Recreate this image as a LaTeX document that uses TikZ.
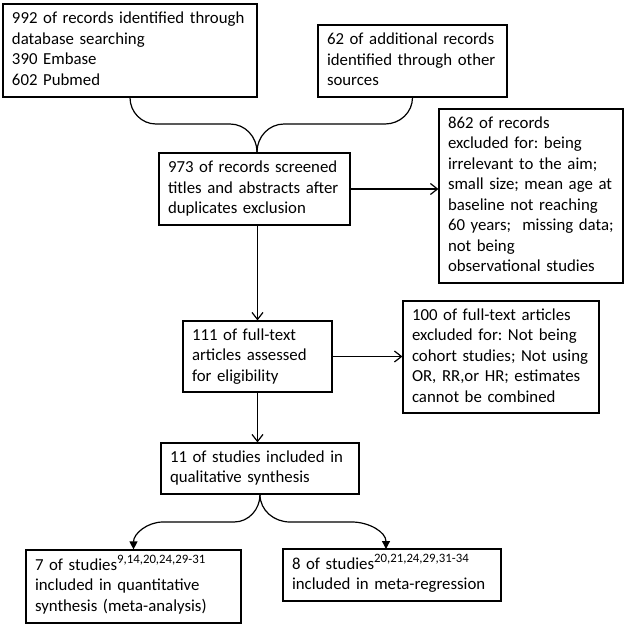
\documentclass[tikz,border=0pt]{standalone}
\usepackage{fontspec}
\setmainfont{Carlito}
\usetikzlibrary{arrows.meta}
\frenchspacing
\newcommand{\bl}[1]{\begin{tabular}{@{}l@{}}#1\end{tabular}}
\newcommand{\refsup}[1]{\raisebox{0.4em}{\fontsize{12.8}{12.8}\selectfont #1}}
\tikzset{
  box/.style={draw, line width=1.2pt, align=left, inner xsep=9pt, inner ysep=0pt,
    font=\fontsize{16.8}{20.5}\selectfont},
  conn/.style={line width=1.2pt},
  openarrow/.style={conn, -{Straight Barb[length=7pt,width=11pt,line width=1.2pt]}},
  fillarrow/.style={conn, -{Triangle[length=8pt,width=8pt]}}
}
\begin{document}
\begin{tikzpicture}[x=1pt,y=-1pt]
\useasboundingbox (0,0) rectangle (625,625);
\node[box, text width=236pt, minimum height=93pt] (b1) at (130,50.5)
  {\bl{992 of records identified through\\database searching\\390 Embase\\602 Pubmed}};
\node[box, text width=171pt, minimum height=72pt] (b2) at (412.5,61)
  {\bl{62 of additional records\\identified through other\\sources}};
\node[box, text width=173pt, minimum height=72pt] (b3) at (254.5,189)
  {\bl{973 of records screened\\titles and abstracts after\\duplicates exclusion}};
\node[box, text width=166pt, minimum height=174pt] (b4) at (531,196)
  {\bl{862 of records\\excluded for: being\\irrelevant to the aim;\\small size; mean age at\\baseline not reaching\\60 years;\ \ missing data;\\not being\\observational studies}};
\node[box, text width=131pt, minimum height=71pt] (b5) at (257.5,356.5)
  {\bl{111 of full-text\\articles assessed\\for eligibility}};
\node[box, text width=178pt, minimum height=112pt] (b6) at (501,357)
  {\bl{100 of full-text articles\\excluded for: Not being\\cohort studies; Not using\\OR, RR,or HR; estimates\\cannot be combined}};
\node[box, text width=180pt, minimum height=51pt] (b7) at (260,468.5)
  {\bl{11 of studies included in\\qualitative synthesis}};
\node[box, text width=197pt, minimum height=73pt] (b8) at (133.5,586.5)
  {\bl{7 of studies\refsup{9,14,20,24,29-31}\\included in quantitative\\synthesis (meta-analysis)}};
\node[box, text width=200pt, minimum height=52pt] (b9) at (392,575)
  {\bl{8 of studies\refsup{20,21,24,29,31-34}\\included in meta-regression}};
\coordinate (cusp) at (257,152);
\coordinate (t9) at (386,549);
\draw[conn] (b1.south) to[out=-90,in=180] (156,124) -- (230,124) to[out=0,in=90] (cusp);
\draw[conn] (b2.south) to[out=-90,in=0] (385,124) -- (284,124) to[out=180,in=90] (cusp);
\draw[openarrow] (b3.east) -- (b3.east -| b4.west);
\draw[openarrow] (b5.north |- b3.south) -- (b5.north);
\draw[openarrow] (b5.east) -- (b5.east -| b6.west);
\draw[openarrow] (b5.south) -- (b5.south |- b7.north);
\draw[fillarrow] (b7.south) to[out=-90,in=0] (234,522) -- (163,522) to[out=180,in=90] (b8.north);
\draw[fillarrow] (b7.south) to[out=-90,in=180] (290,522) -- (352,522) to[out=0,in=90] (t9);
\end{tikzpicture}
\end{document}
